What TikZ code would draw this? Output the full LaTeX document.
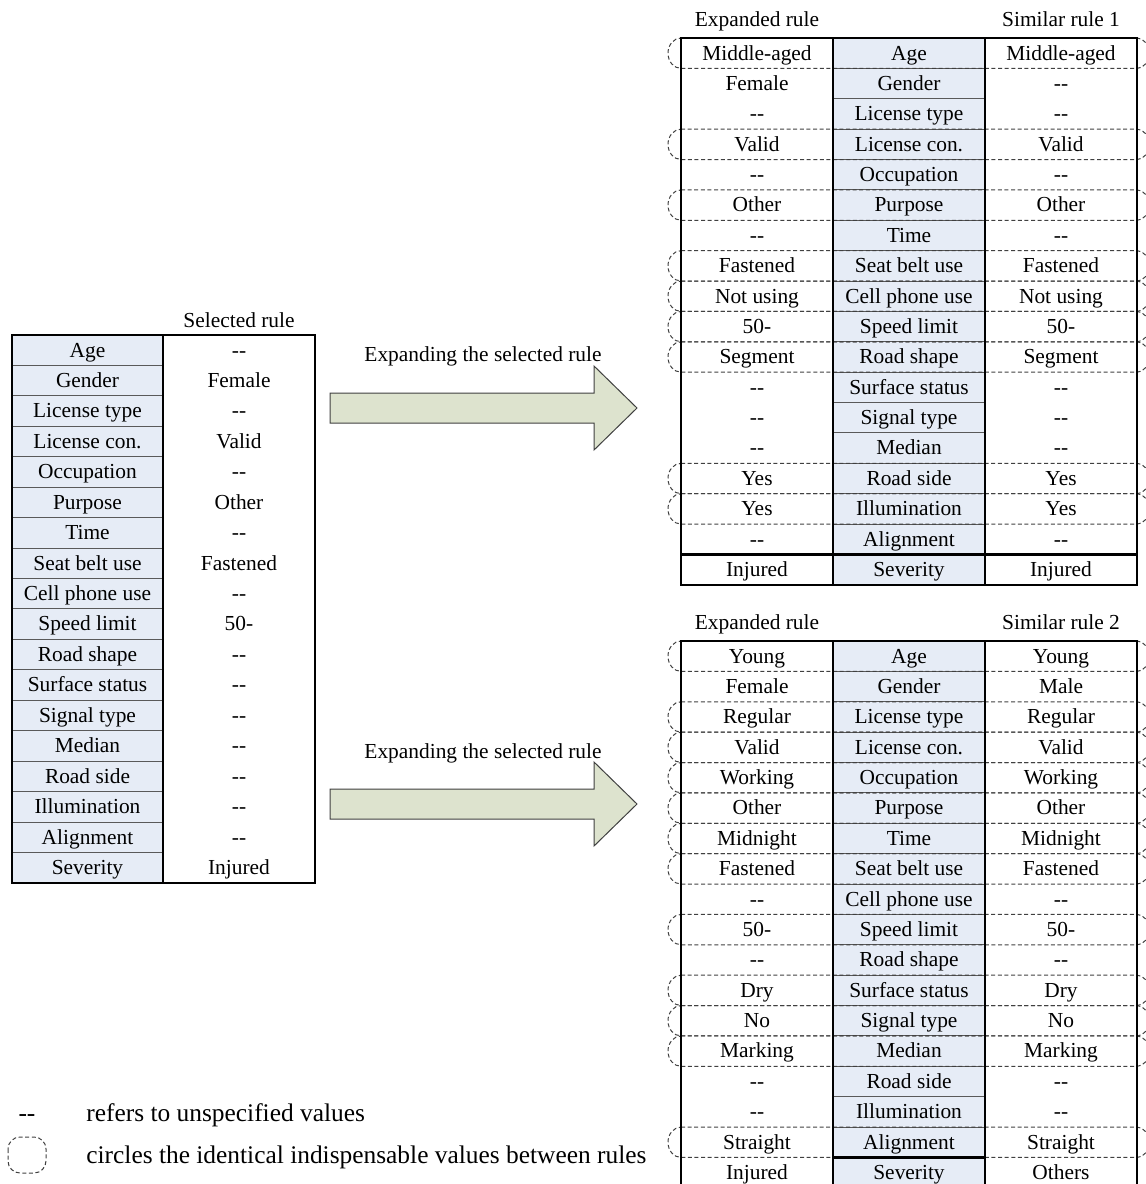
\documentclass[tikz,border=0pt]{standalone}
\usepackage{fontspec}
\setmainfont{Liberation Serif}
% two separate hyphens for an unspecified value
\newcommand\nv{-\kern0pt-}
\definecolor{attrblue}{RGB}{230,236,246}
\definecolor{arrowfill}{RGB}{221,227,206}

% one three-column rule table: #1 name, #2 top y, #3 left values, #4 right values,
% #5 circled rows, #6 thick rule above the last row over full width (1) or middle only (0)
\newcommand\ruletable[6]{%
  \pgfmathsetmacro\tT{#2}%
  \pgfmathsetmacro\tB{#2+18*30.38}%
  \fill[attrblue] (833,\tT) rectangle (985,\tB);
  \foreach \i in {1,...,16}
    \draw[rowline] (833,{\tT+\i*30.38}) -- (985,{\tT+\i*30.38});
  \foreach \r in {#5}
    \draw[circ] (681,{\tT+(\r-1)*30.38}) -- (1137,{\tT+(\r-1)*30.38})
      arc[start angle=-90,end angle=90,x radius=12,y radius=15.19]
      -- (681,{\tT+\r*30.38})
      arc[start angle=90,end angle=270,x radius=13,y radius=15.19] -- cycle;
  \ifnum#6=1
    \draw[frame] (681,{\tT+17*30.38}) -- (1137,{\tT+17*30.38});
  \else
    \draw[frame] (833,{\tT+17*30.38}) -- (985,{\tT+17*30.38});
  \fi
  \draw[frame] (681,\tT) rectangle (1137,\tB);
  \draw[frame] (833,\tT) -- (833,\tB) (985,\tT) -- (985,\tB);
  \foreach \t [count=\i] in {Age,Gender,License type,License con.,Occupation,Purpose,Time,Seat belt use,Cell phone use,Speed limit,Road shape,Surface status,Signal type,Median,Road side,Illumination,Alignment,Severity}
    \node[cell] (#1-a-\i) at (909,{\tT+(\i-1)*30.38+22}) {\t};
  \foreach \t [count=\i] in {#3}
    \node[cell] (#1-e-\i) at (757,{\tT+(\i-1)*30.38+22}) {\t};
  \foreach \t [count=\i] in {#4}
    \node[cell] (#1-s-\i) at (1061,{\tT+(\i-1)*30.38+22}) {\t};
}

\begin{document}
\begin{tikzpicture}[x=0.5pt,y=-0.5pt,
  every node/.style={font=\fontsize{10.7}{12}\selectfont,inner sep=0pt},
  cell/.style={anchor=base},
  legend/.style={anchor=base west,font=\fontsize{12.7}{14}\selectfont},
  frame/.style={line width=1.3pt,draw=black},
  rowline/.style={line width=0.5pt,draw=black!65},
  circ/.style={line width=0.5pt,draw=black!75,dash pattern=on 2pt off 1.3pt},
  blockarrow/.style={fill=arrowfill,draw=black!75,line width=0.5pt,line join=miter}]
\useasboundingbox (0,0) rectangle (1146,1184);

% selected rule
\fill[attrblue] (12,335) rectangle (163,883);
\foreach \i in {1,...,17}
  \draw[rowline] (12,{335+\i*30.44}) -- (163,{335+\i*30.44});
\draw[frame] (12,335) rectangle (315,883);
\draw[frame] (163,335) -- (163,883);
\node[cell] (selhead) at (239,327) {Selected rule};
\foreach \t [count=\i] in {Age,Gender,License type,License con.,Occupation,Purpose,Time,Seat belt use,Cell phone use,Speed limit,Road shape,Surface status,Signal type,Median,Road side,Illumination,Alignment,Severity}
  \node[cell] (sel-a-\i) at (87.5,{335+(\i-1)*30.44+22}) {\t};
\foreach \t [count=\i] in {\nv,Female,\nv,Valid,\nv,Other,\nv,Fastened,\nv,50-,\nv,\nv,\nv,\nv,\nv,\nv,\nv,Injured}
  \node[cell] (sel-v-\i) at (239,{335+(\i-1)*30.44+22}) {\t};

% expansion arrows
\draw[blockarrow] (330,393) -- (594,393) -- (594,366) -- (637,408) -- (594,450)
  -- (594,423) -- (330,423) -- cycle;
\node[cell] (exp1) at (483,361) {Expanding the selected rule};
\draw[blockarrow] (330,789) -- (594,789) -- (594,762) -- (637,804) -- (594,846)
  -- (594,819) -- (330,819) -- cycle;
\node[cell] (exp2) at (483,758) {Expanding the selected rule};

% similar rule 1
\node[cell] (h1e) at (757,26) {Expanded rule};
\node[cell] (h1s) at (1061,26) {Similar rule 1};
\ruletable{t1}{38}
  {Middle-aged,Female,\nv,Valid,\nv,Other,\nv,Fastened,Not using,50-,Segment,\nv,\nv,\nv,Yes,Yes,\nv,Injured}
  {Middle-aged,\nv,\nv,Valid,\nv,Other,\nv,Fastened,Not using,50-,Segment,\nv,\nv,\nv,Yes,Yes,\nv,Injured}
  {1,4,6,8,9,10,11,15,16}{1}

% similar rule 2
\node[cell] (h2e) at (757,629) {Expanded rule};
\node[cell] (h2s) at (1061,629) {Similar rule 2};
\ruletable{t2}{641}
  {Young,Female,Regular,Valid,Working,Other,Midnight,Fastened,\nv,50-,\nv,Dry,No,Marking,\nv,\nv,Straight,Injured}
  {Young,Male,Regular,Valid,Working,Other,Midnight,Fastened,\nv,50-,\nv,Dry,No,Marking,\nv,\nv,Straight,Others}
  {1,3,4,5,6,7,8,10,12,13,14,17}{0}

% legend
\node[legend,anchor=base] (legdash) at (27,1121) {\nv};
\node[legend] (legtxt1) at (86,1121) {refers to unspecified values};
\draw[circ,rounded corners=6pt] (8,1137) rectangle (46,1173);
\node[legend] (legtxt2) at (86,1163) {circles the identical indispensable values between rules};
\end{tikzpicture}
\end{document}
